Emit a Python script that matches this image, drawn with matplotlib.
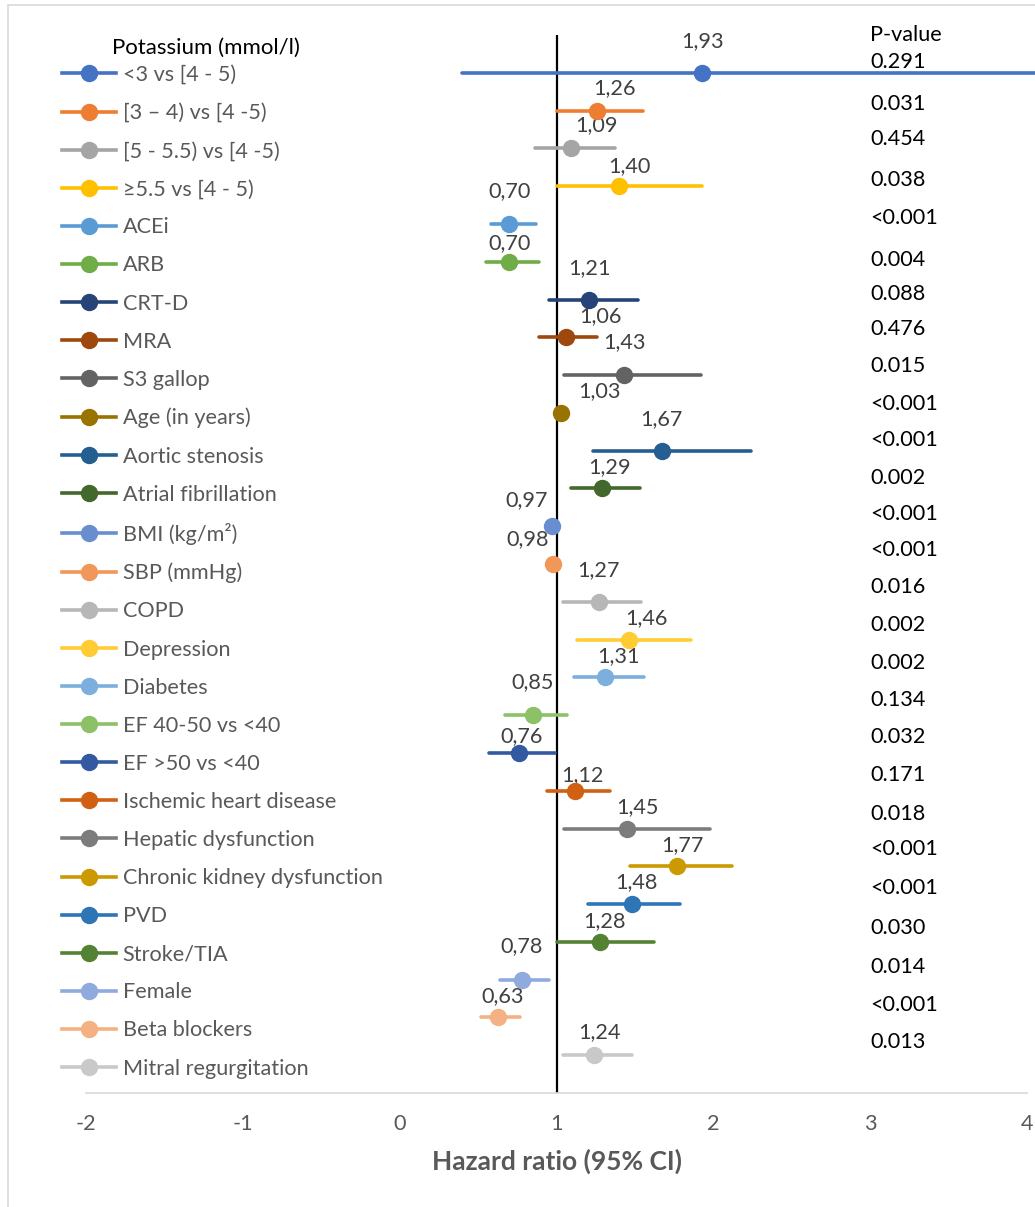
import matplotlib
matplotlib.use("Agg")
import matplotlib.pyplot as plt
from matplotlib.lines import Line2D
from matplotlib.patches import Rectangle

plt.rcParams["font.family"] = ["Lato", "DejaVu Sans"]

# data
labels = [
    "<3 vs [4 - 5)", "[3 \u2013 4) vs [4 -5)", "[5 - 5.5) vs [4 -5)", "\u22655.5 vs [4 - 5)",
    "ACEi", "ARB", "CRT-D", "MRA", "S3 gallop", "Age (in years)", "Aortic stenosis",
    "Atrial fibrillation", "BMI (kg/m\u00b2)", "SBP (mmHg)", "COPD", "Depression",
    "Diabetes", "EF 40-50 vs <40", "EF >50 vs <40", "Ischemic heart disease",
    "Hepatic dysfunction", "Chronic kidney dysfunction", "PVD", "Stroke/TIA",
    "Female", "Beta blockers", "Mitral regurgitation",
]
hr = [1.93, 1.26, 1.09, 1.40, 0.70, 0.70, 1.21, 1.06, 1.43, 1.03, 1.67, 1.29, 0.97,
      0.98, 1.27, 1.46, 1.31, 0.85, 0.76, 1.12, 1.45, 1.77, 1.48, 1.28, 0.78, 0.63, 1.24]
ci_low = [0.40, 1.00, 0.86, 1.00, 0.58, 0.55, 0.95, 0.89, 1.05, 1.02, 1.23, 1.09, 0.96,
          0.97, 1.04, 1.13, 1.11, 0.67, 0.57, 0.94, 1.05, 1.47, 1.20, 1.00, 0.64, 0.52, 1.04]
ci_high = [9.30, 1.55, 1.37, 1.93, 0.87, 0.89, 1.52, 1.26, 1.92, 1.04, 2.24, 1.53, 0.98,
           0.99, 1.54, 1.86, 1.56, 1.07, 0.99, 1.34, 1.98, 2.12, 1.79, 1.62, 0.95, 0.77, 1.48]
p_values = ["0.291", "0.031", "0.454", "0.038", "<0.001", "0.004", "0.088", "0.476",
            "0.015", "<0.001", "<0.001", "0.002", "<0.001", "<0.001", "0.016", "0.002",
            "0.002", "0.134", "0.032", "0.171", "0.018", "<0.001", "<0.001", "0.030",
            "0.014", "<0.001", "0.013"]
x_ticks = [-2, -1, 0, 1, 2, 3, 4]

colors = [
    "#4472C4", "#ED7D31", "#A5A5A5", "#FFC000", "#5B9BD5", "#70AD47",
    "#264478", "#9E480E", "#636363", "#997300", "#255E91", "#43682B",
    "#698ED0", "#F1975A", "#B7B7B7", "#FFCD33", "#7CAFDD", "#8CC168",
    "#335AA1", "#D26012", "#7C7C7C", "#CC9A00", "#2E75B6", "#548235",
    "#8FAADC", "#F4B183", "#C9C9C9",
]

# hand-placed label offsets (pixels), as dragged in the original
hr_label_dx = [0, 17, 26, 10, 0, 0, 0, 34, 0, 38, 0, 8, -25, -26, 0, 18, 13, 0, 3, 7,
               10, 5, 5, 4, 0, 4, 5]
hr_label_dy = [32, 22, 23, 20, 33, 19, 31, 21, 33, 22, 32, 21, 26, 25, 32, 21, 21, 33,
               17, 16, 21, 21, 22, 21, 34, 21, 23]
p_label_dy = [11, 7, 9, 6, 6, 2, 6, 8, 9, 9, 11, 10, 12, 14, 15, 15, 14, 15, 16, 16,
              15, 17, 16, 14, 13, 12, 13]

FS = 15.6
W, H = 1035, 1207
fig = plt.figure(figsize=(W / 100, H / 100), dpi=100)
ax = fig.add_axes([86 / W, 1 - 1093 / H, (1027 - 86) / W, (1093 - 35) / H])
ax.set_xlim(-2, 4)
ax.set_ylim(0, 28)

n = len(labels)
rows = [n - i for i in range(n)]
handles = []
for i in range(n):
    y = rows[i]
    ax.plot([ci_low[i], ci_high[i]], [y, y], color=colors[i], lw=2.6,
            solid_capstyle="round", clip_on=False, zorder=3)
    ax.plot(hr[i], y, "o", color=colors[i], ms=11.5, zorder=4, clip_on=False)
    ax.annotate(f"{hr[i]:.2f}".replace(".", ","), (hr[i], y),
                xytext=(hr_label_dx[i], hr_label_dy[i]), textcoords="offset pixels",
                ha="center", va="center", fontsize=FS, color="#404040")
    ax.annotate(p_values[i], (3.0, y), xytext=(0, p_label_dy[i]),
                textcoords="offset pixels", ha="left", va="center",
                fontsize=FS, color="black")
    handles.append(Line2D([], [], color=colors[i], lw=2.6, marker="o", ms=11.5))

ax.text(3.0, 28, "P-value", transform=ax.transData, ha="left", va="center",
        fontsize=FS, color="black")

# reference line at HR = 1
ax.axvline(1, color="black", lw=1.6, zorder=2)

ax.set_xticks(x_ticks)
ax.set_xticklabels([str(t) for t in x_ticks])
ax.set_yticks([])
for side in ["top", "right", "left"]:
    ax.spines[side].set_visible(False)
ax.spines["bottom"].set_color("#D9D9D9")
ax.spines["bottom"].set_linewidth(1.2)
ax.tick_params(axis="x", length=0, pad=15, labelsize=FS, labelcolor="#595959")
ax.set_xlabel("Hazard ratio (95% CI)", fontsize=19, fontweight="bold",
              color="#595959", labelpad=11)

fig.legend(handles, labels, loc="upper left", bbox_to_anchor=(62 / W, 1 - 65 / H),
           frameon=False, fontsize=FS, labelcolor="#595959", handlelength=2.5,
           handletextpad=0.3, labelspacing=0.835, borderpad=0, borderaxespad=0)
fig.text(112 / W, 1 - 48 / H, "Potassium (mmol/l)", ha="left", va="center",
         fontsize=16, color="black")

# chart area border
fig.add_artist(Rectangle((8 / W, -0.05), 1.1, 1 - 5 / H + 0.05, fill=False,
                         ec="#D9D9D9", lw=1.2, transform=fig.transFigure))

fig.savefig("out.png", dpi=100, facecolor="white")
